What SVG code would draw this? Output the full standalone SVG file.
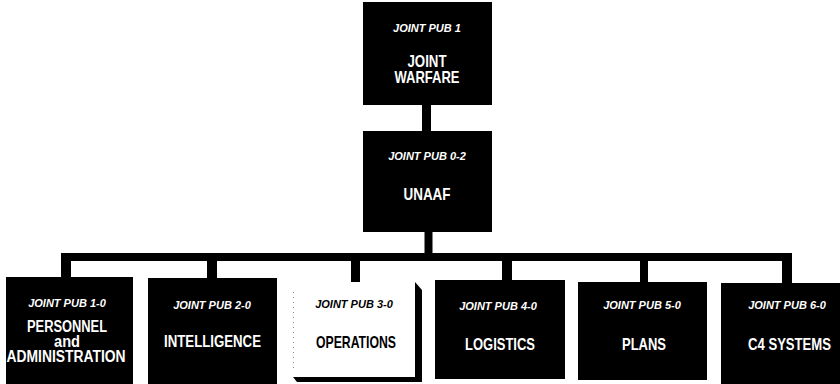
<svg xmlns="http://www.w3.org/2000/svg" width="840" height="384" viewBox="0 0 840 384">
<style>
.box{fill:#000}
.sub{font-family:"Liberation Sans",Arial,sans-serif;font-weight:bold;font-style:italic;font-size:11px;fill:#fff;text-anchor:middle}
.main{font-family:"Liberation Sans",Arial,sans-serif;font-weight:bold;font-size:17px;fill:#fff;text-anchor:middle}
.dark{fill:#000}
.conn{stroke:#000;fill:none}
</style>
<rect width="840" height="384" fill="#fff"/>
<g id="connectors">
<line class="conn" x1="426.5" y1="104" x2="426.5" y2="132" stroke-width="9"/>
<line class="conn" x1="428.5" y1="231" x2="428.5" y2="254" stroke-width="8"/>
<line class="conn" x1="61" y1="257" x2="792" y2="257" stroke-width="8"/>
<line class="conn" x1="66" y1="253" x2="66" y2="278" stroke-width="10"/>
<line class="conn" x1="212" y1="253" x2="212" y2="279" stroke-width="10"/>
<line class="conn" x1="355.5" y1="253" x2="355.5" y2="283" stroke-width="9"/>
<line class="conn" x1="507" y1="253" x2="507" y2="281" stroke-width="10"/>
<line class="conn" x1="644" y1="253" x2="644" y2="283" stroke-width="8"/>
<line class="conn" x1="787" y1="253" x2="787" y2="284" stroke-width="10"/>
</g>
<g id="jp1">
<rect class="box" x="363" y="2" width="129" height="103"/>
<text class="sub" x="427" y="32">JOINT PUB 1</text>
<text class="main" x="427" y="67" textLength="39" lengthAdjust="spacingAndGlyphs">JOINT</text>
<text class="main" x="427" y="83" textLength="65" lengthAdjust="spacingAndGlyphs">WARFARE</text>
</g>
<g id="jp02">
<rect class="box" x="363" y="131" width="129" height="101"/>
<text class="sub" x="427" y="160">JOINT PUB 0-2</text>
<text class="main" x="427" y="200" textLength="47" lengthAdjust="spacingAndGlyphs">UNAAF</text>
</g>
<g id="jp10">
<rect class="box" x="6" y="277" width="127" height="107"/>
<text class="sub" x="67" y="307">JOINT PUB 1-0</text>
<text class="main" x="67" y="332" style="font-size:16px" textLength="80" lengthAdjust="spacingAndGlyphs">PERSONNEL</text>
<text class="main" x="67" y="347" style="font-size:16px" textLength="26" lengthAdjust="spacingAndGlyphs">and</text>
<text class="main" x="66" y="362" style="font-size:16px" textLength="119" lengthAdjust="spacingAndGlyphs">ADMINISTRATION</text>
</g>
<g id="jp20">
<rect class="box" x="148" y="278" width="129" height="106"/>
<text class="sub" x="212" y="309">JOINT PUB 2-0</text>
<text class="main" x="212.5" y="347" textLength="97" lengthAdjust="spacingAndGlyphs">INTELLIGENCE</text>
</g>
<g id="jp30">
<rect x="293" y="282" width="122" height="95" fill="#fff"/>
<line x1="293.5" y1="292" x2="293.5" y2="372" stroke="#888" stroke-width="1" stroke-dasharray="1 4"/>
<polygon class="dark" points="415,282 422,290 422,382 415,382"/>
<polygon class="dark" points="293,377 422,377 422,382 297,382"/>
<text class="sub" x="354" y="308" style="fill:#000">JOINT PUB 3-0</text>
<text class="main" x="356" y="348" style="fill:#000" textLength="80" lengthAdjust="spacingAndGlyphs">OPERATIONS</text>
</g>
<g id="jp40">
<rect class="box" x="435" y="280" width="130" height="99"/>
<text class="sub" x="498" y="310">JOINT PUB 4-0</text>
<text class="main" x="500" y="350" textLength="70" lengthAdjust="spacingAndGlyphs">LOGISTICS</text>
</g>
<g id="jp50">
<rect class="box" x="578" y="282" width="129" height="98"/>
<text class="sub" x="642" y="309">JOINT PUB 5-0</text>
<text class="main" x="644" y="350" textLength="44" lengthAdjust="spacingAndGlyphs">PLANS</text>
</g>
<g id="jp60">
<rect class="box" x="721" y="283" width="119" height="101"/>
<text class="sub" x="787" y="309">JOINT PUB 6-0</text>
<text class="main" x="789.5" y="350" textLength="83" lengthAdjust="spacingAndGlyphs">C4 SYSTEMS</text>
</g>
</svg>
